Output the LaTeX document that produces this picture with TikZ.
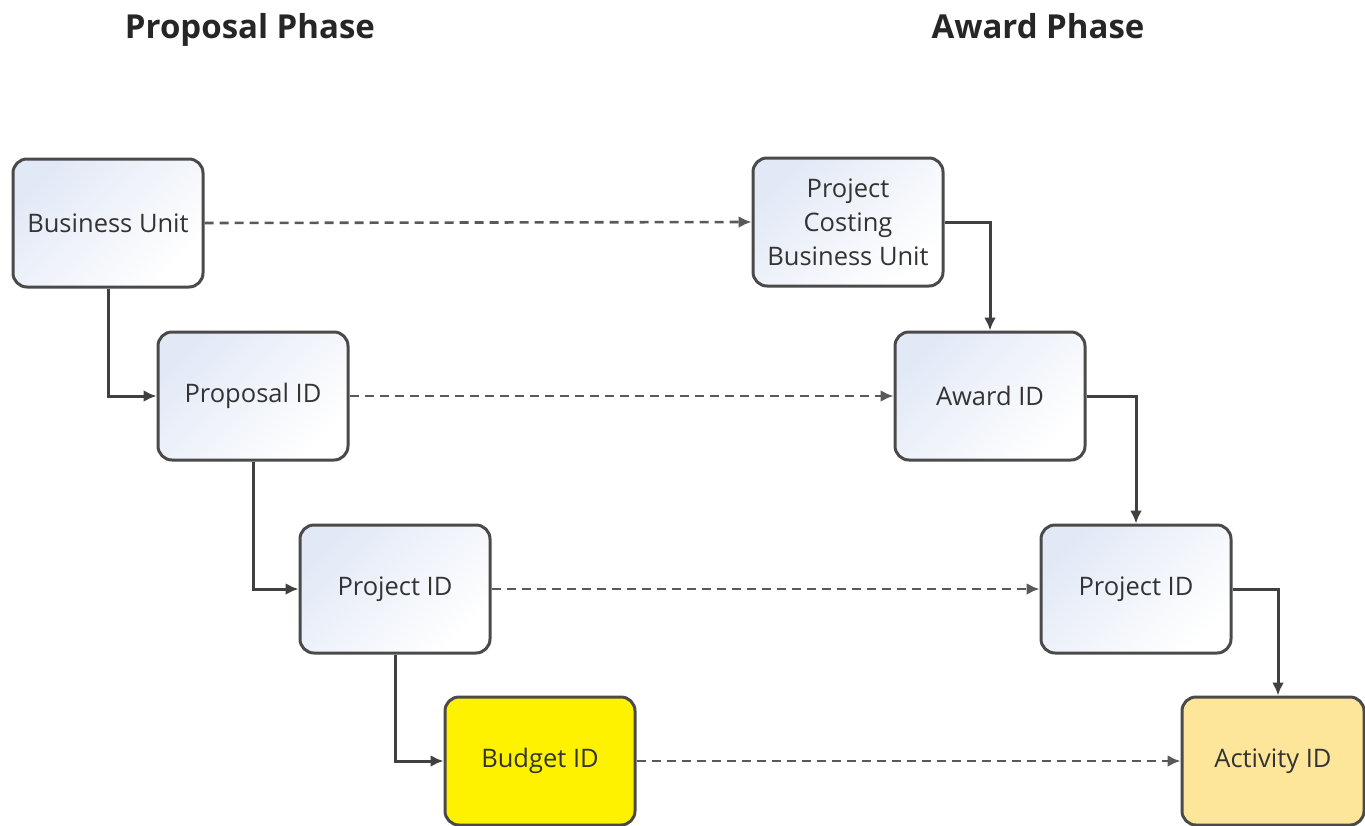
\documentclass[tikz,border=0pt]{standalone}
\usepackage{fontspec}
\setmainfont{Open Sans}
\usetikzlibrary{arrows.meta}
\definecolor{boxline}{HTML}{4A4A4A}
\definecolor{gradtop}{HTML}{E2E9F6}
\definecolor{activ}{HTML}{FDE69A}
\begin{document}
\begin{tikzpicture}[x=1pt,y=-1pt,
  box/.style={draw=boxline, line width=3pt, rounded corners=14pt,
    minimum width=190pt, minimum height=128pt, inner sep=0pt, align=center,
    text=black!80, font=\fontsize{25.5}{34}\selectfont},
  plain/.style={box, left color=gradtop, right color=white, shading angle=45},
  title/.style={font=\bfseries\fontsize{33}{38}\selectfont, text=black!85, anchor=base},
  conn/.style={draw=black!75, line width=3pt, -{Latex[length=13pt,width=12pt]}},
  dconn/.style={conn, line width=2.6pt, draw=black!65, dash pattern=on 9pt off 6pt}]
\useasboundingbox (0,0) rectangle (1365,825);
\node[title] (t1) at (250,38) {Proposal Phase};
\node[title] (t2) at (1038,38) {Award Phase};

\node[plain] (bu) at (108,223) {Business Unit};
\node[plain] (prop) at (253,396) {Proposal ID};
\node[plain] (pj1) at (395,589) {Project ID};
\node[box, fill=yellow] (bud) at (540,761) {Budget ID};

\node[plain] (pcbu) at (848,222) {Project\\Costing\\Business Unit};
\node[plain] (aw) at (990,396) {Award ID};
\node[plain] (pj2) at (1136,589) {Project ID};
\node[box, fill=activ, minimum width=182pt] (act) at (1273,761) {Activity ID};

\draw[conn] (bu.south) |- (prop.west);
\draw[conn] (prop.south) |- (pj1.west);
\draw[conn] (pj1.south) |- (bud.west);

\draw[conn] (pcbu.east) -| (aw.north);
\draw[conn] (aw.east) -| (pj2.north);
\draw[conn] (pj2.east) -| ([xshift=5pt]act.north);

\draw[dconn] (bu.east) -- (pcbu.west);
\draw[dconn] (prop.east) -- (aw.west);
\draw[dconn] (pj1.east) -- (pj2.west);
\draw[dconn] (bud.east) -- (act.west);
\end{tikzpicture}
\end{document}
